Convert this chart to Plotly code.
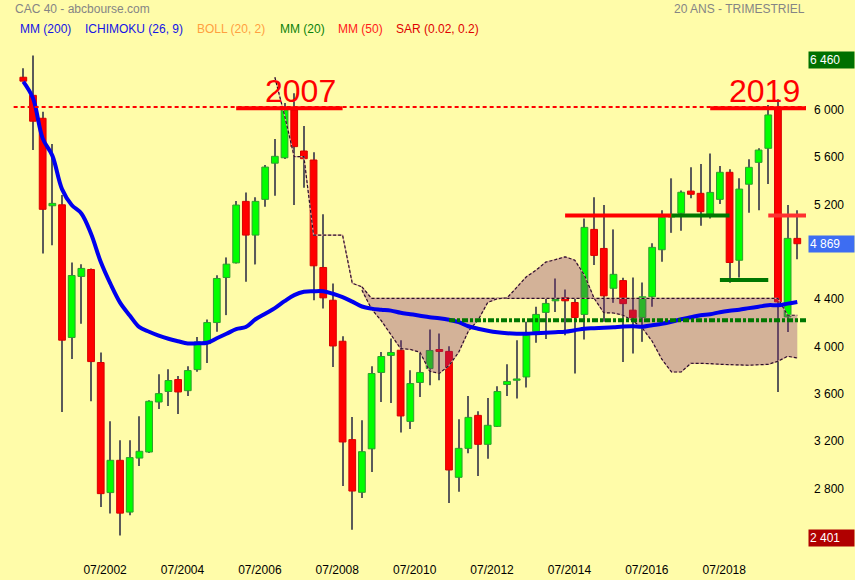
import plotly.graph_objects as go

# ---------------- data (quarterly candles, Q3 2000 -> Q3 2020) ----------------
open_ = [6277, 6124, 5930, 5190, 5198, 4076, 4592, 4651, 3864, 2764,
         3037, 2599, 3056, 3107, 3530, 3619, 3720, 3626, 3804, 4024,
         4202, 4583, 4707, 5227, 4942, 5244, 5550, 5596, 6000, 5653,
         5577, 4668, 4391, 4044, 3212, 2766, 3134, 3780, 3924, 3968,
         3366, 3695, 3813, 3974, 3958, 2893, 3138, 3417, 3172, 3324,
         3678, 3714, 3742, 4126, 4288, 4386, 4414, 4372, 4271, 4990,
         4829, 4492, 4557, 4307, 4245, 4420, 4818, 5095, 5126, 5314,
         5295, 5119, 5244, 5473, 4729, 5372, 5557, 5676, 6006, 4250,
         4914]
high = [6353, 6460, 5986, 5712, 5280, 4711, 4696, 4660, 3948, 3367,
        3206, 3206, 3409, 3545, 3765, 3807, 3750, 3832, 4080, 4228,
        4603, 4753, 5230, 5303, 5262, 5534, 5754, 6060, 6141, 5865,
        5642, 5119, 4532, 4087, 3403, 3375, 3832, 3954, 4067, 4053,
        3799, 3945, 4143, 4110, 4002, 3384, 3581, 3451, 3564, 3663,
        3849, 4053, 4208, 4335, 4406, 4575, 4482, 4406, 5083, 5261,
        5196, 4990, 4580, 4583, 4541, 4872, 5153, 5422, 5320, 5515,
        5543, 5633, 5526, 5498, 5422, 5583, 5676, 6042, 6090, 5196,
        5153]
low = [6244, 5661, 4787, 4857, 3446, 3894, 4191, 3537, 2642, 2586,
       2401, 2573, 2988, 3098, 3471, 3497, 3429, 3581, 3785, 3861,
       4124, 4265, 4702, 4547, 4694, 5181, 5275, 5585, 5196, 5342,
       4391, 4321, 3827, 2819, 2450, 2718, 2938, 3530, 3522, 3272,
       3302, 3572, 3672, 3714, 2676, 2771, 3096, 2904, 3051, 3319,
       3581, 3559, 3653, 4031, 4064, 4292, 4095, 3771, 4058, 4688,
       4208, 4369, 3869, 3940, 4039, 4335, 4716, 4961, 4978, 5253,
       5020, 5083, 5204, 4538, 4584, 5131, 5153, 5373, 3614, 4123,
       4738]
close = [6244, 5905, 5160, 5210, 4053, 4600, 4660, 3872, 2755, 3037,
         2590, 3060, 3113, 3536, 3601, 3712, 3615, 3796, 4038, 4202,
         4575, 4696, 5196, 4942, 5227, 5517, 5608, 6000, 5690, 5588,
         4682, 4411, 4004, 3192, 2777, 3110, 3771, 3915, 3949, 3412,
         3686, 3780, 3966, 3958, 2955, 3138, 3400, 3172, 3333, 3619,
         3704, 3725, 4095, 4271, 4364, 4397, 4386, 4245, 5007, 4770,
         4428, 4610, 4362, 4242, 4420, 4838, 5092, 5115, 5304, 5287,
         5140, 5303, 5473, 4710, 5331, 5515, 5661, 5958, 4377, 4914,
         4869]

mm200 = [6240, 6099, 5760, 5614, 5331, 5196, 5125, 4953, 4716, 4531,
         4371, 4262, 4163, 4124, 4091, 4065, 4044, 4025, 4027, 4031,
         4069, 4107, 4146, 4164, 4230, 4277, 4324, 4383, 4434, 4463,
         4467, 4467, 4446, 4417, 4379, 4338, 4320, 4311, 4303, 4285,
         4273, 4260, 4247, 4239, 4226, 4205, 4171, 4150, 4133, 4120,
         4112, 4108, 4108, 4112, 4116, 4120, 4125, 4137, 4150, 4154,
         4158, 4163, 4169, 4171, 4167, 4180, 4192, 4209, 4230, 4247,
         4264, 4273, 4290, 4302, 4311, 4324, 4336, 4349, 4349, 4362,
         4376]

# Ichimoku: span B leading segment (from candle 26) and cloud spans (from candle 35)
kumo_lead_start = 26
kumo_b_lead = [6277, 5955, 5605, 5605, 4942, 4942, 4942, 4942, 4535, 4504]
kumo_start = 35
kumo_b = [4504, 4406, 4406, 4406, 4406, 4406, 4406, 4406, 4406, 4406,
          4406, 4406, 4406, 4406, 4406, 4406, 4406, 4406, 4406, 4406,
          4406, 4406, 4406, 4406, 4406, 4406, 4406, 4406, 4406, 4406,
          4406, 4406, 4406, 4406, 4406, 4406, 4406, 4406, 4406, 4406,
          4406, 4406, 4406, 4406, 4264, 4264]
kumo_a = [4476, 4316, 4218, 4095, 3982, 3975, 3951, 3790, 3773, 3838,
          3951, 4129, 4222, 4372, 4404, 4410, 4501, 4589, 4645, 4713,
          4734, 4758, 4730, 4603, 4408, 4285, 4283, 4264, 4218, 4154,
          4044, 3892, 3784, 3784, 3858, 3858, 3855, 3849, 3847, 3841,
          3841, 3845, 3849, 3875, 3917, 3903]

tick_idx = [8, 16, 24, 32, 40, 48, 56, 64, 72]
tick_labels = ["07/2002", "07/2004", "07/2006", "07/2008", "07/2010",
               "07/2012", "07/2014", "07/2016", "07/2018"]
ytick_vals = [6000, 5600, 5200, 4400, 4000, 3600, 3200, 2800]
ytick_text = ["6 000", "5 600", "5 200", "4 400", "4 000", "3 600", "3 200", "2 800"]

max_val, last_val, min_val = 6460, 4869, 2401

# horizontal marker levels: (start candle, end candle or None=edge, level)
top_dashed = (-1.0, None, 6025)
red_2007 = (22, 33, 6015)
red_2019 = (71, None, 6015)
red_5100 = (56, 67, 5107)
green_5100 = (67, 73, 5107)
red_5100b = (77, None, 5107)
green_4560 = (72, 77, 4561)
green_dashdot = (44, None, 4222)

# ---------------- figure ----------------
BG = "#fffca9"
FONT = "Arial, Liberation Sans, sans-serif"
X0, X1 = -2.41, 80.9
Y0, Y1 = 2236, 6592

n = len(open_)
idx = list(range(n))
inc = [c >= o for o, c in zip(open_, close)]
body_base = [min(o, c) for o, c in zip(open_, close)]
body_len = [max(abs(c - o), 10) for o, c in zip(open_, close)]
fill_col = ["#00ff00" if u else "#ff0000" for u in inc]
edge_col = ["#2e9e2e" if u else "#d80000" for u in inc]

fig = go.Figure()
# wicks
fig.add_trace(go.Bar(x=idx, y=[h - l for h, l in zip(high, low)], base=low, width=0.11,
                     marker=dict(color="#5a5a5a", line=dict(width=0)), hoverinfo="skip"))
# bodies
fig.add_trace(go.Bar(x=idx, y=body_len, base=body_base, width=0.7,
                     marker=dict(color=fill_col, line=dict(color=edge_col, width=1)),
                     hoverinfo="skip"))

# cloud
kx = list(range(kumo_start, kumo_start + len(kumo_a)))
lx = list(range(kumo_lead_start, kumo_lead_start + len(kumo_b_lead)))
fig.add_trace(go.Scatter(x=kx, y=kumo_b, mode="lines",
                         line=dict(width=0, color="rgba(0,0,0,0)"), hoverinfo="skip"))
fig.add_trace(go.Scatter(x=kx, y=kumo_a, mode="lines", fill="tonexty",
                         fillcolor="rgba(128,40,120,0.35)",
                         line=dict(width=0, color="rgba(0,0,0,0)"), hoverinfo="skip"))
for xs, ys in [(lx, kumo_b_lead), (kx, kumo_b), (kx, kumo_a)]:
    fig.add_trace(go.Scatter(x=xs, y=ys, mode="lines",
                             line=dict(color="#d8a89a", width=1.2), hoverinfo="skip"))
    fig.add_trace(go.Scatter(x=xs, y=ys, mode="lines",
                             line=dict(color="#2a102a", width=1.2, dash="3px,2px"),
                             hoverinfo="skip"))

# MM 200
fig.add_trace(go.Scatter(x=idx, y=mm200, mode="lines",
                         line=dict(color="#0000ee", width=4, shape="spline"),
                         hoverinfo="skip"))

# horizontal lines
def hline(spec, color, width, dash=None):
    x0, x1, lvl = spec
    fig.add_shape(type="line", xref="x", yref="y", x0=x0, x1=(X1 if x1 is None else x1),
                  y0=lvl, y1=lvl, line=dict(color=color, width=width, dash=dash))

hline(top_dashed, "#ff0000", 2, "4px,3px")
hline(red_2007, "#ff0000", 4)
hline(red_2019, "#ff0000", 4)
hline(red_5100, "#ff0000", 4)
hline(green_5100, "#007700", 4)
hline(red_5100b, "#ff3030", 4)
hline(green_4560, "#007700", 4)
hline(green_dashdot, "#007700", 4, "6px,2px,3px,2px")

ann = []
ann.append(dict(text="2007", x=28.6, y=red_2007[2], xref="x", yref="y", yanchor="middle",
                yshift=17, showarrow=False, font=dict(family=FONT, size=32, color="#ff0000")))
ann.append(dict(text="2019", x=76.6, y=red_2019[2], xref="x", yref="y", yanchor="middle",
                yshift=17, showarrow=False, font=dict(family=FONT, size=32, color="#ff0000")))

# header texts
ann.append(dict(text="CAC 40 - abcbourse.com", x=0, y=1, xref="paper", yref="paper",
                xanchor="left", yanchor="middle", xshift=13, yshift=31, showarrow=False,
                font=dict(family=FONT, size=12, color="#858585")))
ann.append(dict(text="20 ANS - TRIMESTRIEL", x=1, y=1, xref="paper", yref="paper",
                xanchor="right", yanchor="middle", xshift=1, yshift=31, showarrow=False,
                font=dict(family=FONT, size=12, color="#858585")))
legend_items = [("MM (200)", "#1414e6", 18), ("ICHIMOKU (26, 9)", "#1414e6", 83),
                ("BOLL (20, 2)", "#ffa040", 195), ("MM (20)", "#0a820a", 278),
                ("MM (50)", "#ff1a1a", 336), ("SAR (0.02, 0.2)", "#e00000", 394)]
for txt, col, px in legend_items:
    ann.append(dict(text=txt, x=0, y=1, xref="paper", yref="paper", xanchor="left",
                    yanchor="middle", xshift=px, yshift=11, showarrow=False,
                    font=dict(family=FONT, size=12, color=col)))

# value boxes on the price axis
for val, bg, ys in [(max_val, "#007000", -4), (last_val, "#3d6df2", 0), (min_val, "#b00000", -3)]:
    s = f"{val:,}".replace(",", " ")
    ann.append(dict(text=s, x=1, y=val, xref="paper", yref="y", xanchor="left",
                    yanchor="middle", xshift=2, yshift=ys, showarrow=False, align="left",
                    width=43, height=14, bgcolor=bg, borderpad=1,
                    font=dict(family=FONT, size=12, color="#ffffff")))

fig.update_layout(
    width=855, height=580,
    margin=dict(l=0, r=49, t=40, b=25),
    paper_bgcolor=BG, plot_bgcolor=BG,
    showlegend=False, barmode="overlay",
    annotations=ann,
    xaxis=dict(range=[X0, X1], tickvals=[t + 0.45 for t in tick_idx], ticktext=tick_labels,
               showgrid=False, zeroline=False, showline=False, ticks="",
               ticklabelstandoff=6,
               tickfont=dict(family=FONT, size=12, color="#000000")),
    yaxis=dict(range=[Y0, Y1], side="right", tickvals=ytick_vals, ticktext=ytick_text,
               showgrid=False, zeroline=False, showline=False, ticks="",
               ticklabelstandoff=7,
               tickfont=dict(family=FONT, size=12, color="#000000")),
)

fig.write_html(
    "out.html",
    config={"displayModeBar": False},
    post_script=("document.body.style.margin='0';document.body.style.padding='0';"
                 "document.body.style.overflow='hidden';"
                 "document.body.style.background='" + BG + "';"),
)
